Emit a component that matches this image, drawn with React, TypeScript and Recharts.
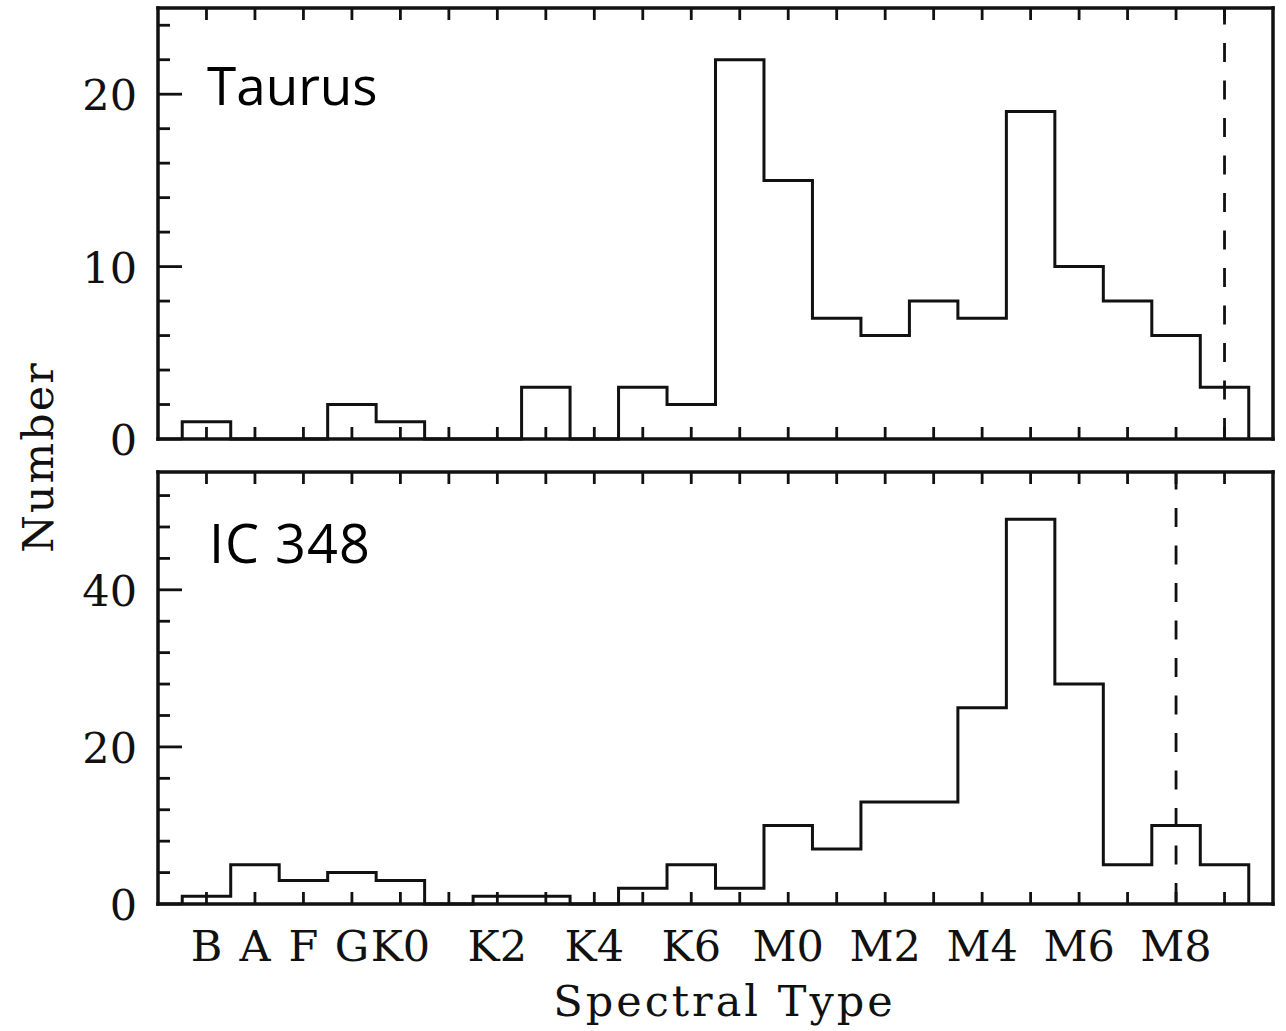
import React from "react";
import { ComposedChart, Line, XAxis, YAxis, ReferenceLine, Label } from "recharts";

// spectral type bins, one per integer position on the x axis
const spectralTypes = [
  "B", "A", "F", "G", "K0", "K1", "K2", "K3", "K4", "K5", "K6",
  "K7", "M0", "M1", "M2", "M3", "M4", "M5", "M6", "M7", "M8", "M9",
];
const labeledTypes = ["B", "A", "F", "G", "K0", "K2", "K4", "K6", "M0", "M2", "M4", "M6", "M8"];
const typeTicks = [0, 1, 2, 3, 4, 5, 6, 7, 8, 9, 10, 11, 12, 13, 14, 15, 16, 17, 18, 19, 20, 21];

// counts per bin
const taurusCounts = [1, 0, 0, 2, 1, 0, 0, 3, 0, 3, 2, 22, 15, 7, 6, 8, 7, 19, 10, 8, 6, 3];
const ic348Counts = [1, 5, 3, 4, 3, 0, 1, 1, 0, 2, 5, 2, 10, 7, 13, 13, 25, 49, 28, 5, 10, 5];

const taurusTicks = [0, 2, 4, 6, 8, 10, 12, 14, 16, 18, 20, 22, 24];
const taurusMajor = [0, 10, 20];
const ic348Ticks = [0, 4, 8, 12, 16, 20, 24, 28, 32, 36, 40, 44, 48, 52];
const ic348Major = [0, 20, 40];

const taurusLimit = "M9";
const ic348Limit = "M8";

const SERIF = '"DejaVu Serif", "Liberation Serif", serif';
const SANS = '"Open Sans", Lato, sans-serif';
const INK = "#111";

// outline of a histogram: bins centred on the integer positions, width 1
const toSteps = (counts: number[]) => {
  const rows = [{ x: -0.5, n: 0 }];
  counts.forEach((n, i) => rows.push({ x: i - 0.5, n }));
  rows.push({ x: counts.length - 0.5, n: 0 });
  return rows;
};

const BottomTick = (p: any) => {
  const name = spectralTypes[p.payload.value];
  return (
    <g>
      <line x1={p.x} x2={p.x} y1={p.y} y2={p.y - 12} stroke={INK} strokeWidth={2.8} />
      {p.showLabel && labeledTypes.includes(name) && (
        <text x={p.x} y={p.y + 57} textAnchor="middle" fontFamily={SERIF} fontSize={43} fill={INK}>
          {name}
        </text>
      )}
    </g>
  );
};

const TopTick = (p: any) => (
  <line x1={p.x} x2={p.x} y1={p.y} y2={p.y + 12} stroke={INK} strokeWidth={2.8} />
);

const LeftTick = (p: any) => {
  const major = p.major.includes(p.payload.value);
  return (
    <g>
      <line x1={p.x} x2={p.x + (major ? 24 : 12)} y1={p.y} y2={p.y} stroke={INK} strokeWidth={2.8} />
      {major && (
        <text x={p.x - 21} y={p.y + 16} textAnchor="end" fontFamily={SERIF} fontSize={43} fill={INK}>
          {p.payload.value}
        </text>
      )}
    </g>
  );
};

const RightTick = (p: any) => {
  const major = p.major.includes(p.payload.value);
  return <line x1={p.x} x2={p.x - (major ? 24 : 12)} y1={p.y} y2={p.y} stroke={INK} strokeWidth={2.8} />;
};

const frame = { stroke: INK, strokeWidth: 3.5, strokeLinecap: "square" as const };

interface PanelProps {
  counts: number[];
  ticks: number[];
  major: number[];
  yMax: number;
  limit: string;
  height: number;
  bottom: number;
  showLabels: boolean;
}

// axes are 1px wide/tall (0 hides them), margins shifted by that 1px
const Panel = ({ counts, ticks, major, yMax, limit, height, bottom, showLabels }: PanelProps) => (
  <ComposedChart
    width={1286}
    height={height}
    data={toSteps(counts)}
    margin={{ top: 7, right: 12, bottom: bottom - 1, left: 157 }}
  >
    <XAxis
      xAxisId="b"
      dataKey="x"
      type="number"
      domain={[-1, 22]}
      ticks={typeTicks}
      interval={0}
      height={1}
      tickSize={0}
      tickMargin={0}
      tickLine={false}
      axisLine={frame}
      tick={(p: any) => <BottomTick {...p} showLabel={showLabels} />}
    >
      {showLabels && (
        <Label
          value="Spectral Type"
          position="bottom"
          offset={80}
          dx={9}
          style={{ fontFamily: SERIF, fontSize: 43, fill: INK, letterSpacing: 3 }}
        />
      )}
    </XAxis>
    <XAxis
      xAxisId="t"
      orientation="top"
      dataKey="x"
      type="number"
      domain={[-1, 22]}
      ticks={typeTicks}
      interval={0}
      height={1}
      tickSize={0}
      tickMargin={0}
      tickLine={false}
      axisLine={frame}
      tick={(p: any) => <TopTick {...p} />}
    />
    <YAxis
      yAxisId="l"
      type="number"
      domain={[0, yMax]}
      ticks={ticks}
      interval={0}
      width={1}
      tickSize={0}
      tickMargin={0}
      tickLine={false}
      axisLine={frame}
      tick={(p: any) => <LeftTick {...p} major={major} />}
    />
    <YAxis
      yAxisId="r"
      orientation="right"
      type="number"
      domain={[0, yMax]}
      ticks={ticks}
      interval={0}
      width={1}
      tickSize={0}
      tickMargin={0}
      tickLine={false}
      axisLine={frame}
      tick={(p: any) => <RightTick {...p} major={major} />}
    />
    <ReferenceLine
      xAxisId="b"
      yAxisId="l"
      x={spectralTypes.indexOf(limit)}
      stroke={INK}
      strokeWidth={2.8}
      strokeDasharray="19 18.5"
      strokeDashoffset={-2}
    />
    <Line
      xAxisId="b"
      yAxisId="l"
      dataKey="n"
      type="stepAfter"
      stroke={INK}
      strokeWidth={3}
      dot={false}
      activeDot={false}
      isAnimationActive={false}
    />
  </ComposedChart>
);

export default function App() {
  return (
    <div style={{ position: "absolute", left: 0, top: 0, width: 1286, height: 1031, background: "#fff" }}>
      <div style={{ position: "absolute", left: 0, top: 0 }}>
        <Panel
          counts={taurusCounts}
          ticks={taurusTicks}
          major={taurusMajor}
          yMax={25}
          limit={taurusLimit}
          height={470}
          bottom={31}
          showLabels={false}
        />
      </div>
      <div style={{ position: "absolute", left: 0, top: 464 }}>
        <Panel
          counts={ic348Counts}
          ticks={ic348Ticks}
          major={ic348Major}
          yMax={55}
          limit={ic348Limit}
          height={567}
          bottom={127}
          showLabels={true}
        />
      </div>
      <svg
        width={1286}
        height={1031}
        style={{ position: "absolute", left: 0, top: 0, pointerEvents: "none" }}
      >
        <text x={207} y={105} fontFamily={SANS} fontSize={53} fill="#000">
          Taurus
        </text>
        <text x={209} y={563} fontFamily={SANS} fontSize={54} letterSpacing={1} fill="#000">
          IC 348
        </text>
        <text
          transform="translate(53,457) rotate(-90)"
          textAnchor="middle"
          fontFamily={SERIF}
          fontSize={43}
          letterSpacing={2}
          fill={INK}
        >
          Number
        </text>
      </svg>
    </div>
  );
}
